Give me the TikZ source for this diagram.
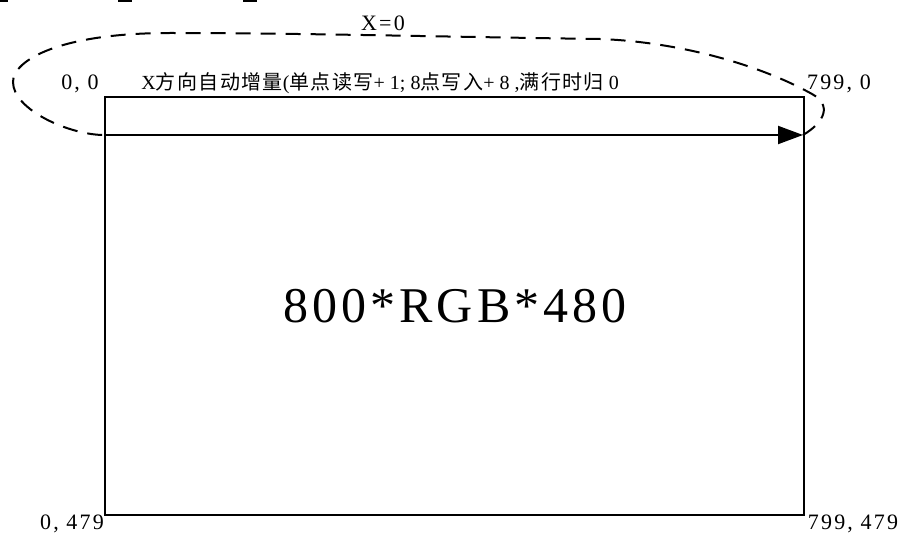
\documentclass[tikz,border=0pt]{standalone}
\usepackage{fontspec}
\setmainfont{Liberation Serif}
\newfontfamily\cjk{Noto Sans CJK SC}[LetterSpace=7]
\usepackage{tikz}
\usetikzlibrary{arrows.meta,positioning}
\tikzset{
  coordtxt/.style={font=\addfontfeature{LetterSpace=10}\fontsize{11}{13}\selectfont,inner sep=0pt},
  dashloop/.style={line width=1pt,dash pattern=on 7.5pt off 5pt},
}

\begin{document}
\begin{tikzpicture}[x=0.5pt,y=-0.5pt]
\useasboundingbox (0,0) rectangle (899,535);
% screen frame
\node (screen) [draw,line width=1pt,anchor=north west,inner sep=0pt,
  minimum width=349.5pt,minimum height=209pt] at (104,96) {};
\node (res) [font=\addfontfeature{LetterSpace=8}\fontsize{25}{30}\selectfont,inner sep=0pt] at (455,306) {800*RGB*480};
%
\node (o00) [coordtxt] at (80,84) {0, 0};
\node (xmax) [coordtxt] at (839,84) {799, 0};
\node (o479) [coordtxt] at (72,524) {0, 479};
\node (xymax) [coordtxt] at (853,524) {799, 479};
\node (xzero) [coordtxt] at (383,23) {X=0};
\node (hint) [coordtxt,anchor=west,font=\fontsize{10}{12}\selectfont] at (141,83)
  {X{\cjk 方向自动增量}({\cjk 单点读写}+ 1; 8{\cjk 点写入}+ 8 ,{\cjk 满行时归} 0};
%
\coordinate (rowL) at (104,135);
\coordinate (rowR) at (803,135);
\draw[line width=1pt,-{Triangle[length=12.5pt,width=9pt]}] (rowL) -- (rowR);
\draw[dashloop] (rowR) .. controls (825,122) and (832,105) .. (812,94)
  .. controls (760,65) and (680,42) .. (600,39)
  .. controls (450,37) and (300,33) .. (170,33)
  .. controls (60,33) and (13,60) .. (13,82)
  .. controls (13,110) and (70,135) .. (rowL);
% cut-off marks at the top edge
\foreach \a/\b in {0/8,118/132,243/257}
  \draw[line width=1pt] (\a,1) -- (\b,1);
\end{tikzpicture}
\end{document}
